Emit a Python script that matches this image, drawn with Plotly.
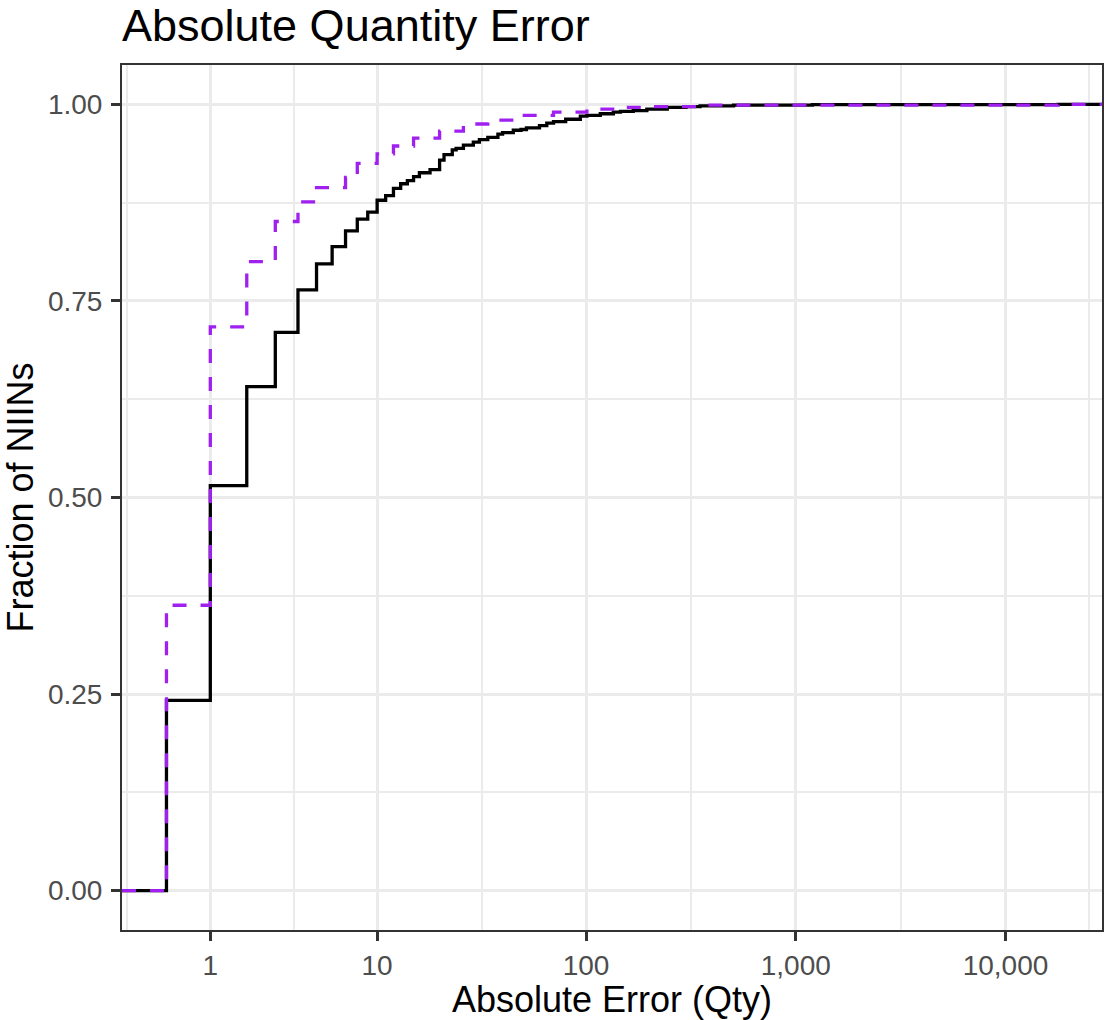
import numpy as np
import plotly.graph_objects as go

# ---------------- data ----------------
# ECDF of absolute quantity error: step positions (Qty) and cumulative fraction of NIINs
solid_error = [0, 1, 2, 3, 4, 5, 6, 7, 8, 9, 10, 11, 12, 13, 14, 15, 16, 18, 20, 21,
               23, 24, 26, 29, 31, 34, 38, 40, 45, 49, 52, 60, 65, 70, 80, 94, 101, 117,
               135, 146, 168, 195, 244, 300, 350, 505, 1200, 17800]
solid_frac = [0.242, 0.515, 0.641, 0.710, 0.764, 0.797, 0.819, 0.839, 0.854, 0.863,
              0.878, 0.884, 0.893, 0.899, 0.903, 0.908, 0.913, 0.917, 0.929, 0.936,
              0.942, 0.944, 0.948, 0.952, 0.955, 0.958, 0.962, 0.964, 0.967, 0.968,
              0.970, 0.973, 0.976, 0.978, 0.981, 0.985, 0.986, 0.988, 0.990, 0.991,
              0.992, 0.994, 0.996, 0.997, 0.998, 0.999, 0.9995, 1.0]

dashed_error = [0, 1, 2, 3, 4, 5, 7, 8, 10, 12, 15, 20, 26, 34, 49, 70, 101, 146, 200,
                350, 17800]
dashed_frac = [0.363, 0.717, 0.800, 0.851, 0.876, 0.894, 0.907, 0.925, 0.937, 0.947,
               0.957, 0.966, 0.975, 0.980, 0.986, 0.990, 0.994, 0.996, 0.997, 0.999, 1.0]

x_breaks = [1, 10, 100, 1000, 10000]
x_labels = ["1", "10", "100", "1,000", "10,000"]
y_breaks = [0, 0.25, 0.5, 0.75, 1.0]
y_labels = ["0.00", "0.25", "0.50", "0.75", "1.00"]

# ---------------- pseudo-log transform (sigma = 1, base 10) ----------------
def pseudo_log(v):
    return np.arcsinh(np.asarray(v, dtype=float) / 2) / np.log(10)

X_RANGE = [-0.212, 4.46]
Y_RANGE = [-0.05, 1.05]

# minor breaks as ggplot computes them (midpoints in transformed space)
tb = list(pseudo_log(x_breaks))
bd = tb[1] - tb[0]
tb_ext = [tb[0] - bd] + tb + [tb[-1] + bd]
x_minor = [(a + b) / 2 for a, b in zip(tb_ext[:-1], tb_ext[1:])]
y_minor = [(a + b) / 2 for a, b in zip(y_breaks[:-1], y_breaks[1:])]


def ecdf_path(err, frac):
    xs = [X_RANGE[0]] + list(pseudo_log(err)) + [X_RANGE[1]]
    ys = [0.0] + list(frac) + [frac[-1]]
    return xs, ys


fig = go.Figure()

sx, sy = ecdf_path(solid_error, solid_frac)
fig.add_trace(go.Scatter(x=sx, y=sy, mode="lines", line_shape="hv",
                         line=dict(color="black", width=3.3),
                         name="solid", showlegend=False))

dx, dy = ecdf_path(dashed_error, dashed_frac)
fig.add_trace(go.Scatter(x=dx, y=dy, mode="lines", line_shape="hv",
                         line=dict(color="#A020F0", width=3.3, dash="14px,14px"),
                         name="dashed", showlegend=False))

FONT = "Liberation Sans, Arial, Helvetica, sans-serif"
GRID = "#EBEBEB"
AX = "#333333"

fig.update_layout(
    width=1104, height=1020,
    margin=dict(l=122, r=2, t=65, b=90, autoexpand=False),
    paper_bgcolor="white", plot_bgcolor="white",
    font=dict(family=FONT, color="black"),
    title=dict(text="Absolute Quantity Error", font=dict(size=45, color="black", family=FONT),
               x=0, xref="paper", xanchor="left",
               y=1 - 25 / 1020, yref="container", yanchor="middle"),
)

fig.update_xaxes(
    range=X_RANGE, tickmode="array", tickvals=list(pseudo_log(x_breaks)), ticktext=x_labels,
    showgrid=True, gridcolor=GRID, gridwidth=3, zeroline=False, automargin=False,
    minor=dict(tickmode="array", tickvals=x_minor, showgrid=True, gridcolor=GRID,
               gridwidth=1.5, ticks=""),
    ticks="outside", ticklen=9, tickwidth=3, tickcolor=AX,
    tickfont=dict(size=28, color="#4D4D4D", family=FONT),
    showline=True, linecolor=AX, linewidth=2, mirror=True,
    title=dict(text="Absolute Error (Qty)", font=dict(size=36, color="black", family=FONT),
               standoff=4),
)

fig.update_yaxes(
    range=Y_RANGE, tickmode="array", tickvals=y_breaks, ticktext=y_labels,
    showgrid=True, gridcolor=GRID, gridwidth=3, zeroline=False, automargin=False,
    minor=dict(tickmode="array", tickvals=y_minor, showgrid=True, gridcolor=GRID,
               gridwidth=1.5, ticks=""),
    ticks="outside", ticklen=9, tickwidth=3, tickcolor=AX,
    tickfont=dict(size=28, color="#4D4D4D", family=FONT), ticklabelstandoff=3,
    showline=True, linecolor=AX, linewidth=2, mirror=True,
    title=dict(text="Fraction of NIINs", font=dict(size=36, color="black", family=FONT),
               standoff=8),
)

fig.write_html(
    "out.html",
    config={"displayModeBar": False},
    post_script="document.body.style.margin='0';document.body.style.overflow='hidden';",
)
